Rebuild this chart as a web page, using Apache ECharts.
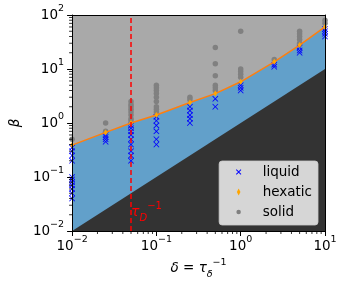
<!DOCTYPE html>
<html>
<head>
<meta charset="utf-8">
<script src="https://cdn.jsdelivr.net/npm/echarts@6/dist/echarts.min.js"></script>
<style>
html,body{margin:0;padding:0;background:#fff;}
#main{width:346px;height:289px;}
</style>
</head>
<body>
<div id="main"></div>
<script>
// delta columns of the simulation grid
const deltas = [0.01, 0.025, 0.05, 0.1, 0.25, 0.5, 1, 2.5, 5, 10];
// beta values per delta column
const liquidBeta = [
    [0.35, 0.3, 0.25, 0.2, 0.1, 0.09, 0.08, 0.07, 0.06, 0.05, 0.04],
    [0.6, 0.55, 0.5, 0.45],
    [0.9, 0.8, 0.7, 0.6, 0.5, 0.4, 0.3, 0.25, 0.2],
    [1.3, 1.1, 0.9, 0.7, 0.5, 0.4],
    [2.0, 1.7, 1.4, 1.2, 1.0],
    [2.8, 2.0],
    [5, 4.5, 4],
    [12, 11],
    [25, 22, 20],
    [55, 50, 45, 40]
];
const hexaticBeta = [0.39, 0.67, 1.0, 1.41, 2.4, 3.5, 5.8, 13.6, 27.8, 60];
const solidBeta = [
    [0.5],
    [1.0, 0.7],
    [2.5, 2.2, 2.0, 1.8, 1.6, 1.4, 1.2, 1.1],
    [5, 4.5, 4, 3.5, 3, 2.5, 2, 1.8, 1.6],
    [3, 2.7],
    [25, 12.5, 7.5, 5, 4.5, 4],
    [50, 10, 9, 8, 7],
    [15],
    [50, 45, 40, 35, 30],
    [80, 70]
];
const diagonal = [0.01, 10];
const deltaCr = 0.05;
const deltaCrLabelBeta = 0.0225;
const xDecades = [0.01, 0.1, 1];
const yDecades = [0.01, 0.1, 1, 10];
const minorSteps = [2, 3, 4, 5, 6, 7, 8, 9];

const font = 'DejaVu Sans';

function columns(vals) {
    let pts = [];
    deltas.forEach((d, i) => vals[i].forEach(b => pts.push([d, b])));
    return pts;
}
let liquidPts = columns(liquidBeta);
let solidPts = columns(solidBeta);
let hexaticPts = deltas.map((d, i) => [d, hexaticBeta[i]]);
let diagPts = diagonal.map(d => [d, d]);

let xMinor = [];
xDecades.forEach(d => minorSteps.forEach(s => xMinor.push([s * d, 0.01])));
let yMinor = [];
yDecades.forEach(d => minorSteps.forEach(s => yMinor.push([0.01, s * d])));

const xPath = 'path://M0,1L1,0L5,4L9,0L10,1L6,5L10,9L9,10L5,6L1,10L0,9L4,5Z';
const dPath = 'path://M5,0L8,5L5,10L2,5Z';
const xIcon = 'path://M0,0M10,10M2,2.7L2.7,2L5,4.3L7.3,2L8,2.7L5.7,5L8,7.3L7.3,8L5,5.7L2.7,8L2,7.3L4.3,5Z';
const dIcon = 'path://M0,0M10,10M5,1L7,5L5,9L3,5Z';
const cIcon = 'path://M0,0M10,10M7.5,5A2.5,2.5,0,1,1,2.5,5A2.5,2.5,0,1,1,7.5,5Z';

const rich = {
    b: {fontFamily: font, fontSize: 13.5, lineHeight: 22, color: '#000'},
    s: {fontFamily: font, fontSize: 9.5, lineHeight: 10, verticalAlign: 'top', color: '#000'},
    i: {fontFamily: font, fontSize: 13.5, lineHeight: 22, fontStyle: 'italic', color: '#000'},
    u: {fontFamily: font, fontSize: 9.5, lineHeight: 14, verticalAlign: 'bottom', fontStyle: 'italic', color: '#000'}
};

function powLabel(v) {
    let e = Math.round(Math.log10(v));
    return '{b|10}{s|' + (e < 0 ? '\u2212' + (-e) : e) + '}';
}

function minorTickX(params, api) {
    let p = api.coord([api.value(0), api.value(1)]);
    return {type: 'line', shape: {x1: p[0], y1: p[1], x2: p[0], y2: p[1] + 3}, style: {stroke: '#000', lineWidth: 0.8}};
}
function minorTickY(params, api) {
    let p = api.coord([api.value(0), api.value(1)]);
    return {type: 'line', shape: {x1: p[0] - 3, y1: p[1], x2: p[0], y2: p[1]}, style: {stroke: '#000', lineWidth: 0.8}};
}

let myChart = echarts.init(document.getElementById('main'));

let axisCommon = {
    type: 'log',
    logBase: 10,
    splitLine: {show: false},
    axisLine: {show: true, lineStyle: {color: '#000', width: 1}},
    axisTick: {show: true, length: 5, lineStyle: {color: '#000', width: 1}},
    z: 10
};

let option = {
    animation: false,
    backgroundColor: '#fff',
    grid: {left: 71, right: 21, top: 15, bottom: 58, show: true, backgroundColor: '#a9a9a9', borderWidth: 0},
    xAxis: [
        Object.assign({}, axisCommon, {
            min: 0.01, max: 10, position: 'bottom',
            axisLabel: {formatter: powLabel, rich: rich, margin: 4},
            name: '{i|\u03b4} = {i|\u03c4}{u|\u03b4}{s|\u22121}',
            nameLocation: 'middle', nameGap: 25,
            nameTextStyle: {rich: rich, fontFamily: font, fontSize: 13.5, lineHeight: 22, color: '#000'}
        }),
        Object.assign({}, axisCommon, {
            min: 0.01, max: 10, position: 'top',
            axisTick: {show: false}, axisLabel: {show: false}
        })
    ],
    yAxis: [
        Object.assign({}, axisCommon, {
            min: 0.01, max: 100, position: 'left',
            axisLabel: {formatter: powLabel, rich: rich, margin: 8},
            name: '\u03b2', nameLocation: 'middle', nameRotate: 90, nameGap: 42,
            nameTextStyle: {fontFamily: font, fontSize: 13.5, fontStyle: 'italic', color: '#000'}
        }),
        Object.assign({}, axisCommon, {
            min: 0.01, max: 100, position: 'right',
            axisTick: {show: false}, axisLabel: {show: false}
        })
    ],
    legend: {
        data: [
            {name: 'liquid', icon: xIcon},
            {name: 'hexatic', icon: dIcon},
            {name: 'solid', icon: cIcon}
        ],
        orient: 'vertical',
        right: 28,
        bottom: 64,
        itemWidth: 38,
        itemHeight: 9,
        itemGap: 6,
        padding: [4, 6, 6, 15],
        backgroundColor: 'rgba(255,255,255,0.8)',
        borderColor: 'rgba(204,204,204,0.8)',
        borderWidth: 1,
        borderRadius: 3,
        selectedMode: false,
        z: 20,
        textStyle: {fontFamily: font, fontSize: 13.5, lineHeight: 14, color: '#000'}
    },
    series: [
        {
            // liquid region fill
            type: 'line', data: hexaticPts, symbol: 'none', z: 1,
            lineStyle: {width: 0},
            areaStyle: {color: '#62a0ca', opacity: 1, origin: 'start'},
            silent: true
        },
        {
            // beta = delta, dark region
            type: 'line', data: diagPts, symbol: 'none', z: 1,
            lineStyle: {width: 0},
            areaStyle: {color: '#333333', opacity: 1, origin: 'start'},
            silent: true
        },
        {
            name: 'liquid', type: 'scatter', data: liquidPts, z: 3,
            symbol: xPath, symbolSize: 6,
            itemStyle: {color: '#0000ff', opacity: 1}
        },
        {
            name: 'solid', type: 'scatter', data: solidPts, z: 3,
            symbol: 'circle', symbolSize: 5.5,
            itemStyle: {color: '#808080', opacity: 1}
        },
        {
            name: 'hexatic', type: 'line', data: hexaticPts, z: 4,
            symbol: dPath, symbolSize: [4, 6], showSymbol: true,
            lineStyle: {color: '#ff7f0e', width: 1.5},
            itemStyle: {color: '#ffa500'}
        },
        {
            type: 'line', data: [[deltaCr, 0.01], [deltaCr, 100]], symbol: 'none', z: 5,
            lineStyle: {color: '#ff0000', width: 1.5, type: [5, 3]},
            silent: true,
            markPoint: {
                silent: true,
                symbol: 'circle', symbolSize: 0,
                data: [{coord: [deltaCr, deltaCrLabelBeta]}],
                label: {
                    show: true, position: 'right', distance: 0,
                    formatter: '{t|\u03c4}{u|D}{s|\u22121}',
                    rich: {
                        t: {fontFamily: font, fontSize: 14, lineHeight: 22, fontStyle: 'italic', color: '#ff0000'},
                        u: {fontFamily: font, fontSize: 10, lineHeight: 14, verticalAlign: 'bottom', fontStyle: 'italic', color: '#ff0000'},
                        s: {fontFamily: font, fontSize: 10, lineHeight: 10, verticalAlign: 'top', color: '#ff0000'}
                    }
                }
            }
        },
        {
            type: 'custom', data: xMinor, renderItem: minorTickX, clip: false, silent: true, z: 10
        },
        {
            type: 'custom', data: yMinor, renderItem: minorTickY, clip: false, silent: true, z: 10
        }
    ]
};

myChart.setOption(option);
</script>
</body>
</html>
